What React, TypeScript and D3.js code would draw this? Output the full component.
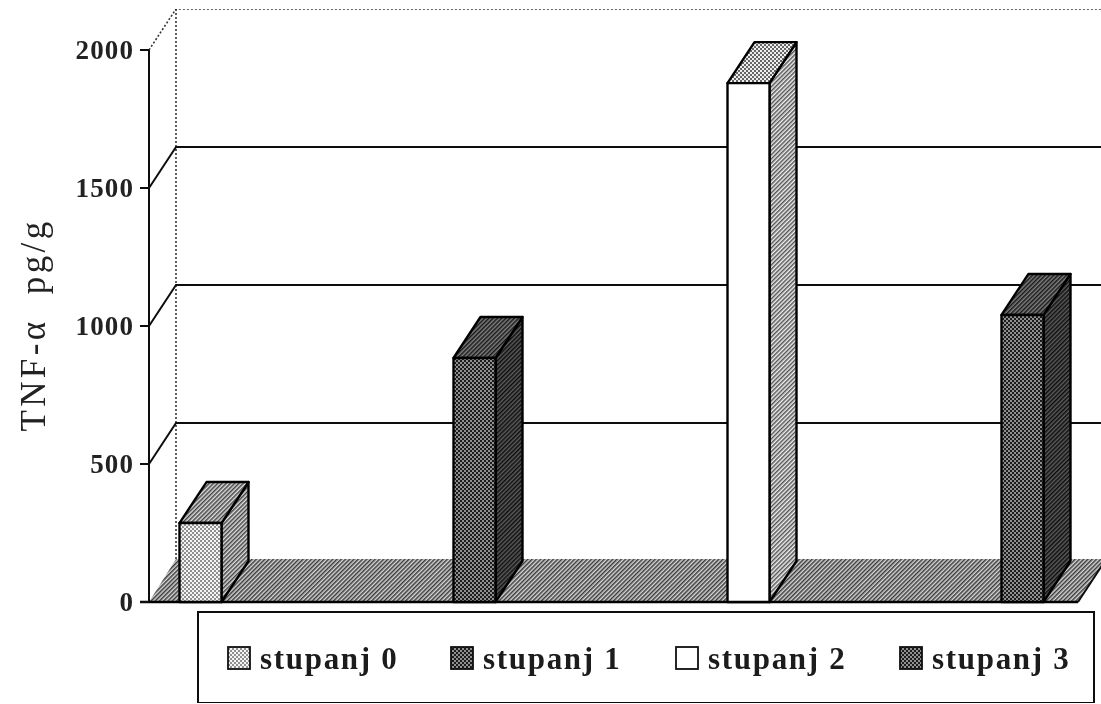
import React from "react";
import * as d3 from "d3";

const categories = ["stupanj 0", "stupanj 1", "stupanj 2", "stupanj 3"];
const values = [286, 884, 1880, 1040];
const yTicks = [0, 500, 1000, 1500, 2000];
const gridTicks = [500, 1000, 1500];
const fronts = ["url(#pLight)", "url(#pDark)", "#ffffff", "url(#pDark)"];
const sides = ["url(#hMid)", "url(#hDarkest)", "url(#hLight)", "url(#hDarkest)"];
const tops = ["url(#hMid)", "url(#hDark)", "url(#pTop)", "url(#hDark)"];
const legendX = [228, 451, 676, 900];

const W = 1101, H = 704;
const y = d3.scaleLinear().domain([0, 2000]).range([602, 50]);
const x = d3.scalePoint<string>().domain(categories).range([179.5, 1001.5]);
const DX = 27, DY = -41, BW = 42;
const axisX = 149;
const poly = (p: number[][]) => {
  const l = d3.line();
  return l(p as [number, number][]) + "Z";
};

function Checker({ id, a, b, s = 4 }: { id: string; a: string; b: string; s?: number }) {
  return (
    <pattern id={id} width={s} height={s} patternUnits="userSpaceOnUse">
      <rect width={s} height={s} fill={a} />
      <rect width={s / 2} height={s / 2} fill={b} />
      <rect x={s / 2} y={s / 2} width={s / 2} height={s / 2} fill={b} />
    </pattern>
  );
}
function Hatch({ id, a, b, w = 1.5 }: { id: string; a: string; b: string; w?: number }) {
  return (
    <pattern id={id} width={3} height={3} patternUnits="userSpaceOnUse" patternTransform="rotate(45)">
      <rect width={3} height={3} fill={a} />
      <rect width={w} height={3} fill={b} />
    </pattern>
  );
}

export default function App() {
  const fam = "'Liberation Serif', serif";
  return (
    <svg width={W} height={H} viewBox={`0 0 ${W} ${H}`} style={{ position: "absolute", left: 0, top: 0, background: "#fff" }}>
      <defs>
        <Checker id="pLight" a="#f4f4f4" b="#909090" />
        <Checker id="pDark" a="#909090" b="#1c1c1c" />
        <Checker id="pTop" a="#eeeeee" b="#666666" />
        <Hatch id="hMid" a="#dddddd" b="#444444" />
        <Hatch id="hLight" a="#f0f0f0" b="#555555" />
        <Hatch id="hDark" a="#808080" b="#181818" />
        <Hatch id="hDarkest" a="#5c5c5c" b="#0e0e0e" />
        <Hatch id="hFloor" a="#d6d6d6" b="#3a3a3a" />
        <filter id="soft" x="0" y="0" width="100%" height="100%">
          <feGaussianBlur stdDeviation="0.55" />
        </filter>
      </defs>
      <g filter="url(#soft)">
        {/* back wall edges */}
        <path d={`M${axisX},${y(2000)}L${axisX + DX},${y(2000) + DY}H${W}`} fill="none" stroke="#333" strokeWidth={1.6} strokeDasharray="2 2" />
        <line x1={axisX + DX} x2={axisX + DX} y1={y(2000) + DY} y2={y(0) + DY} stroke="#333" strokeWidth={1.6} strokeDasharray="2 2" />
        {/* gridlines */}
        {gridTicks.map((t) => (
          <path key={t} d={`M${axisX},${y(t)}L${axisX + DX},${y(t) + DY}H${W}`} fill="none" stroke="#111" strokeWidth={2} />
        ))}
        {/* floor */}
        <path d={poly([[axisX, y(0)], [axisX + DX, y(0) + DY - 2], [W + 30, y(0) + DY - 2], [1078, y(0)]])} fill="url(#hFloor)" />
        <path d={poly([[1078, y(0)], [1078 + DX + 3, y(0) + DY - 4], [W + 10, y(0)]])} fill="#fff" />
        <line x1={1078} y1={y(0)} x2={1078 + DX} y2={y(0) + DY} stroke="#111" strokeWidth={2} />
        {/* axis */}
        <line x1={axisX} x2={axisX} y1={y(2000)} y2={y(0)} stroke="#111" strokeWidth={2} />
        <line x1={140} x2={1078} y1={y(0)} y2={y(0)} stroke="#000" strokeWidth={2.4} />
        {yTicks.map((t) => (
          <g key={t}>
            <line x1={140} x2={axisX} y1={y(t)} y2={y(t)} stroke="#111" strokeWidth={2} />
            <text x={134} y={y(t) + 9} textAnchor="end" fontFamily={fam} fontSize={27} fontWeight={700} letterSpacing={1.1} fill="#222">{t}</text>
          </g>
        ))}
        {/* bars */}
        {categories.map((c, i) => {
          const x0 = x(c)!;
          const yt = y(values[i]);
          const yb = y(0);
          return (
            <g key={c} stroke="#000" strokeWidth={2.4} strokeLinejoin="round">
              <path d={poly([[x0 + BW, yb], [x0 + BW + DX, yb + DY], [x0 + BW + DX, yt + DY], [x0 + BW, yt]])} fill={sides[i]} />
              <path d={poly([[x0, yt], [x0 + DX, yt + DY], [x0 + BW + DX, yt + DY], [x0 + BW, yt]])} fill={tops[i]} />
              <rect x={x0} y={yt} width={BW} height={yb - yt} fill={fronts[i]} />
            </g>
          );
        })}
        {/* y title */}
        <text transform="translate(45,325) rotate(-90)" textAnchor="middle" fontFamily={fam} fontSize={35} fontWeight={400} letterSpacing={3.4} fill="#222" xmlSpace="preserve">TNF-α  pg/g</text>
        {/* legend */}
        <rect x={198} y={612} width={896} height={91} fill="#fff" stroke="#111" strokeWidth={2} />
        {categories.map((c, i) => (
          <g key={c}>
            <rect x={legendX[i]} y={647} width={22} height={22} fill={fronts[i]} stroke="#111" strokeWidth={1.8} />
            <text x={legendX[i] + 32} y={669} fontFamily={fam} fontSize={31} fontWeight={700} letterSpacing={1.7} fill="#1a1a1a">{c}</text>
          </g>
        ))}
      </g>
    </svg>
  );
}
